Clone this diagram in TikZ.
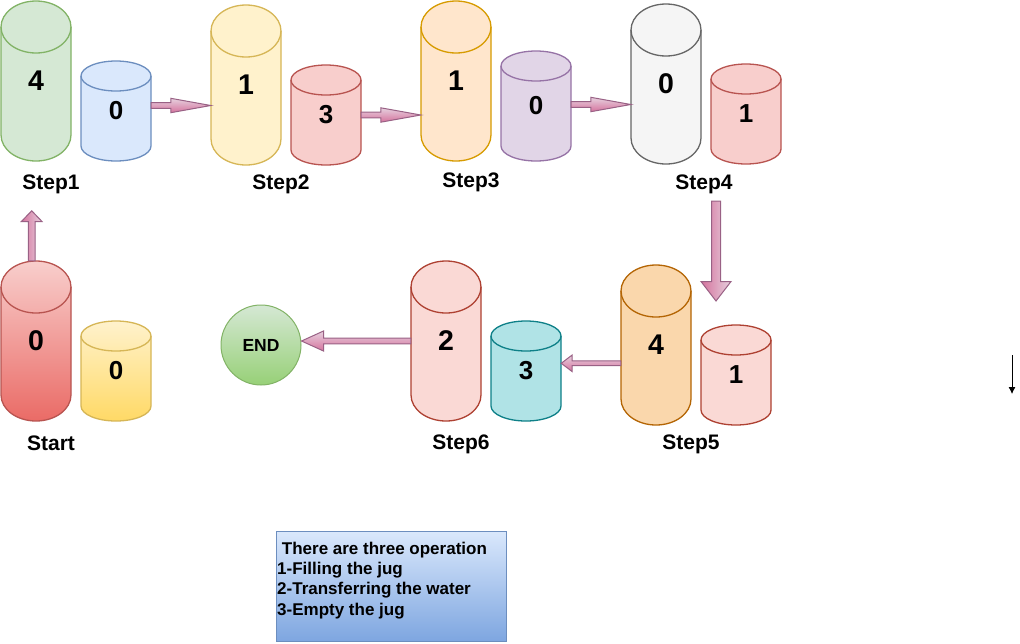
\documentclass[tikz,border=0pt]{standalone}
\usepackage{fontspec}
\setmainfont{Liberation Sans}
\usetikzlibrary{calc,arrows.meta}
\definecolor{gF}{HTML}{D5E8D4}\definecolor{gS}{HTML}{82B366}
\definecolor{bF}{HTML}{DAE8FC}\definecolor{bS}{HTML}{6C8EBF}
\definecolor{yF}{HTML}{FFF2CC}\definecolor{yS}{HTML}{D6B656}
\definecolor{rF}{HTML}{F8CECC}\definecolor{rS}{HTML}{B85450}
\definecolor{oF}{HTML}{FFE6CC}\definecolor{oS}{HTML}{D79B00}
\definecolor{pF}{HTML}{E1D5E7}\definecolor{pS}{HTML}{9673A6}
\definecolor{kF}{HTML}{F5F5F5}\definecolor{kS}{HTML}{666666}
\definecolor{o2F}{HTML}{FAD7AC}\definecolor{o2S}{HTML}{B46504}
\definecolor{nF}{HTML}{FAD9D5}\definecolor{nS}{HTML}{AE4132}
\definecolor{tF}{HTML}{B0E3E6}\definecolor{tS}{HTML}{0E8088}
\definecolor{rG}{HTML}{EA6B66}\definecolor{yG}{HTML}{FFD966}
\definecolor{gG}{HTML}{97D077}\definecolor{bG}{HTML}{7EA6E0}
\definecolor{aF}{HTML}{E6D0DE}\definecolor{aG}{HTML}{D5739D}\definecolor{aS}{HTML}{996185}
\newcommand\cylbigfont{\fontsize{28.5}{31}\selectfont\bfseries}
\newcommand\cylsmallfont{\fontsize{26}{29}\selectfont\bfseries}
% #1 name #2 cx #3 cy #4 h #5 ry #6 fill options #7 stroke #8 content
\newcommand\cyl[8]{%
  \path[#6, draw=#7, line width=1.3pt] ({#2-35},{#3-#4/2+#5}) -- ({#2-35},{#3+#4/2-#5})
    arc[start angle=180,end angle=0,x radius=35,y radius=#5] -- ({#2+35},{#3-#4/2+#5})
    arc[start angle=0,end angle=-180,x radius=35,y radius=#5] -- cycle;
  \draw[#7, line width=1.3pt] ({#2-35},{#3-#4/2+#5}) arc[start angle=180,end angle=0,x radius=35,y radius=#5];
  \node[cylbox, minimum height=#4pt] (#1) at (#2,#3) {#8};
}
% #1 from #2 to #3 body half #4 head half #5 head length #6 shading
\newcommand\flexarrow[6]{%
  \coordinate (fa-h) at ($(#2)!#5pt!(#1)$);
  \path[flexstyle, #6] ($(#1)!#3pt!90:(#2)$) -- ($(fa-h)!#3pt!90:(#2)$) -- ($(fa-h)!#4pt!90:(#2)$)
    -- (#2) -- ($(fa-h)!#4pt!-90:(#2)$) -- ($(fa-h)!#3pt!-90:(#2)$) -- ($(#1)!#3pt!-90:(#2)$) -- cycle;
}
\tikzset{
  cylbox/.style={inner sep=0pt, minimum width=70pt, draw=none},
  flexstyle/.style={draw=aS, line width=1pt, line join=miter},
  hshade/.style={top color=aF, bottom color=aG},
  vshade/.style={left color=aG, right color=aF},
  steplabel/.style={font=\fontsize{21}{24}\selectfont\bfseries, inner sep=0pt},
}
\begin{document}
\begin{tikzpicture}[x=1pt,y=-1pt]
\fill[white] (0,0) rectangle (1020,643);
\useasboundingbox (0,0) rectangle (1020,643);
% Step 1
\cyl{s1a}{36}{81}{160}{26}{fill=gF}{gS}{\cylbigfont 4}
\cyl{s1b}{116}{111}{100}{15}{fill=bF}{bS}{\cylsmallfont 0}
\node[steplabel] (l1) at (51,184) {Step1};
% Step 2
\cyl{s2a}{246}{85}{160}{26}{fill=yF}{yS}{\cylbigfont 1}
\cyl{s2b}{326}{115}{100}{15}{fill=rF}{rS}{\cylsmallfont 3}
\node[steplabel] (l2) at (281,184) {Step2};
% Step 3
\cyl{s3a}{456}{81}{160}{26}{fill=oF}{oS}{\cylbigfont 1}
\cyl{s3b}{536}{106}{110}{15}{fill=pF}{pS}{\cylsmallfont 0}
\node[steplabel] (l3) at (471,182) {Step3};
% Step 4
\cyl{s4a}{666}{84}{160}{26}{fill=kF}{kS}{\cylbigfont 0}
\cyl{s4b}{746}{114}{100}{15}{fill=rF}{rS}{\cylsmallfont 1}
\node[steplabel] (l4) at (704,184) {Step4};
% Step 5
\cyl{s5a}{656}{345}{160}{26}{fill=o2F}{o2S}{\cylbigfont 4}
\cyl{s5b}{736}{375}{100}{15}{fill=nF}{nS}{\cylsmallfont 1}
\node[steplabel] (l5) at (691,444) {Step5};
% Step 6
\cyl{s6a}{446}{341}{160}{26}{fill=nF}{nS}{\cylbigfont 2}
\cyl{s6b}{526}{371}{100}{15}{fill=tF}{tS}{\cylsmallfont 3}
\node[steplabel] (l6) at (461,444) {Step6};
% Start
\cyl{s0a}{36}{341}{160}{26}{top color=rF, bottom color=rG}{rS}{\cylbigfont 0}
\cyl{s0b}{116}{371}{100}{15}{top color=yF, bottom color=yG}{yS}{\cylsmallfont 0}
\node[steplabel] (l0) at (51,443) {Start};
% END
\node[circle, minimum size=80pt, inner sep=0pt, draw=gS, line width=1pt, top color=gF, bottom color=gG,
  font=\fontsize{17.5}{20}\selectfont\bfseries] (end) at (261,345) {END};
% operations box
\node[minimum width=230pt, minimum height=110pt, inner sep=0pt, draw=bS, line width=1pt,
  top color=bF, bottom color=bG] (ops) at (391,586) {};
\node[anchor=north west, inner sep=0pt, align=left, font=\fontsize{17}{20.4}\selectfont\bfseries]
  (opstext) at ([xshift=1.5pt,yshift=-11pt]ops.north west)
  {\ There are three operation\\1-Filling the jug\\2-Transferring the water\\3-Empty the jug};
% arrows
\coordinate (a1s) at ([yshift=5.5pt]s1b.east);
\coordinate (a1e) at (s2a.west |- a1s);
\flexarrow{a1s}{a1e}{2.8}{7.2}{40}{hshade}
\coordinate (a2s) at (s2b.east);
\coordinate (a2e) at (s3a.west |- a2s);
\flexarrow{a2s}{a2e}{2.8}{7.2}{40}{hshade}
\coordinate (a3s) at ([yshift=1.5pt]s3b.east);
\coordinate (a3e) at (s4a.west |- a3s);
\flexarrow{a3s}{a3e}{2.8}{7.2}{40}{hshade}
\coordinate (a4s) at (716,201);
\coordinate (a4e) at (716,301);
\flexarrow{a4s}{a4e}{4.5}{15}{19.5}{vshade}
\coordinate (a5s) at ([yshift=-18.3pt]s5a.west);
\coordinate (a5e) at (s6b.east |- a5s);
\flexarrow{a5s}{a5e}{2.4}{8.3}{11}{hshade}
\coordinate (a6s) at (s6a.west);
\coordinate (a6e) at (end.east |- a6s);
\flexarrow{a6s}{a6e}{2.9}{10}{22}{hshade}
\coordinate (a0s) at ([xshift=-4.3pt]s0a.north);
\coordinate (a0e) at ([yshift=50pt]a0s);
\flexarrow{a0s}{a0e}{3.3}{10.3}{10.7}{vshade}
% small arrow at right
\coordinate (m1) at (1012,355);
\coordinate (m2) at (1012,394);
\draw[line width=0.8pt, -{Latex[length=7pt,width=7pt]}] (m1) -- (m2);
\end{tikzpicture}
\end{document}
